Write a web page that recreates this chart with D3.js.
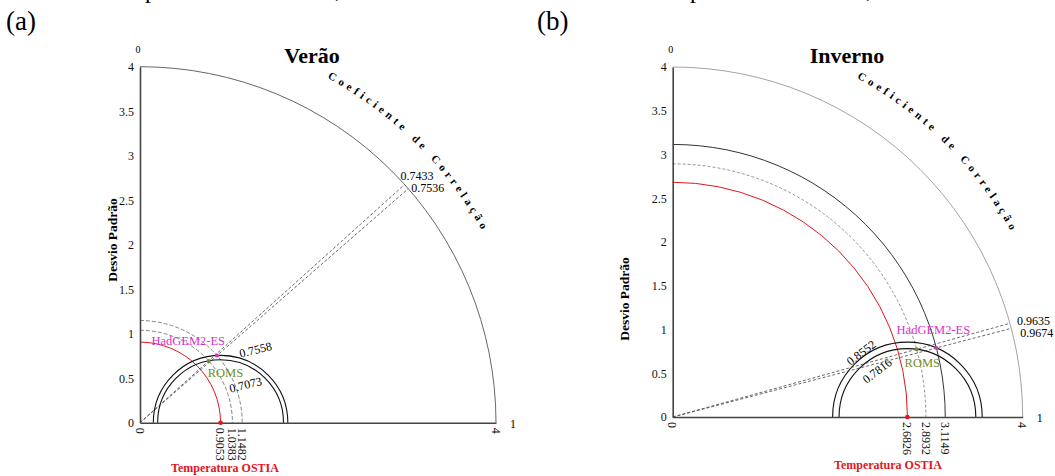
<!DOCTYPE html>
<html><head><meta charset="utf-8">
<script src="https://cdn.jsdelivr.net/npm/d3@7"></script>
<style>
body{margin:0;background:#fff}
svg{display:block}
text{font-family:"Liberation Serif","Times New Roman",serif}
</style>
</head><body>
<svg id="c" width="1055" height="476"></svg>
<script>
// ---------- data ----------
const panelTags = ["(a)", "(b)"];
const panelTitles = ["Verão", "Inverno"];
const refName = "Temperatura OSTIA";
const refStd = [0.9053, 2.6826];
const modelNames = ["HadGEM2-ES", "ROMS"];
const modelStd = [[1.1482, 1.0383], [3.1149, 2.8932]];
const modelCorr = [[0.7536, 0.7433], [0.9674, 0.9635]];
const modelRms = [[0.7558, 0.7073], [0.8552, 0.7816]];
const stdTicks = [0, 0.5, 1, 1.5, 2, 2.5, 3, 3.5, 4];
const stdMax = 4;
const corrEndLabels = ["0", "1"];
const yAxisTitle = "Desvio Padrão";
const corrTitle = "Coeficiente de Correlação";

// ---------- layout / style ----------
const modelColors = ["#d632c8", "#6e8f2c"];
const refColor = "#e3151b";
const layout = [
  { ox: 140, oy: 422.7, R: 356, tagX: 6, titleX: 312, yTitle: [117, 240], refLabel: [225, 472],
    outer: "#555",
    stdStyle: [{ dash: "4,2", stroke: "#777", w: 0.9 }, { dash: "4,2", stroke: "#777", w: 0.9 }],
    modelLabel: [{ dx: 8, dy: -11, anchor: "end" }, { dx: -1, dy: 16, anchor: "start" }],
    rmsLabel: [{ dx: 20, dy: -65, rot: -14 }, { dx: 10, dy: -30, rot: -14 }],
    corrLabel: [{ dx: 3, dy: 3 }, { dx: -4, dy: -5 }],
    frags: [[145, -2, "p"], [335, -3, ","]] },
  { ox: 672.7, oy: 417, R: 350, tagX: 537, titleX: 847, yTitle: [629, 299], refLabel: [888, 469],
    outer: "#999",
    stdStyle: [{ dash: null, stroke: "#333", w: 1 }, { dash: "3,2", stroke: "#888", w: 0.9 }],
    modelLabel: [{ dx: -3, dy: -14, anchor: "middle" }, { dx: -12, dy: 18, anchor: "start" }],
    rmsLabel: [{ dx: -57, dy: -51, rot: -37 }, { dx: -41, dy: -33, rot: -37 }],
    corrLabel: [{ dx: 9, dy: 9 }, { dx: 7, dy: 2 }],
    frags: [[690, -2, "p"], [866, -3, ","]] }
];

const svg = d3.select("#c");
const deg = Math.PI / 180;
const arcPath = (cx, cy, rad, a0, a1) => { const pa = d3.path(); pa.arc(cx, cy, rad, a0, a1, false); return pa.toString(); };

layout.forEach((L, p) => {
  const g = svg.append("g");
  const r = d3.scaleLinear().domain([0, stdMax]).range([0, L.R]);
  const xs = d3.scaleLinear().domain([0, stdMax]).range([L.ox, L.ox + L.R]);
  const ys = d3.scaleLinear().domain([0, stdMax]).range([L.oy, L.oy - L.R]);
  const pt = (s, c) => [xs(s * c), ys(s * Math.sqrt(1 - c * c))];

  // fragments of the text line above (cut off in the source)
  L.frags.forEach(f => g.append("text").attr("x", f[0]).attr("y", f[1]).attr("font-size", 24).text(f[2]));

  // panel tag and title
  g.append("text").attr("x", L.tagX).attr("y", 30).attr("font-size", 27).text(panelTags[p]);
  g.append("text").attr("x", L.titleX).attr("y", 63).attr("text-anchor", "middle")
    .attr("font-size", 22).attr("font-weight", "bold").text(panelTitles[p]);

  // outer arc (std max)
  g.append("path").attr("d", arcPath(L.ox, L.oy, r(stdMax), -Math.PI / 2, 0))
    .attr("fill", "none").attr("stroke", L.outer).attr("stroke-width", 0.9);

  // reference std arc (red)
  g.append("path").attr("d", arcPath(L.ox, L.oy, r(refStd[p]), -Math.PI / 2, 0))
    .attr("fill", "none").attr("stroke", refColor).attr("stroke-width", 1);

  // model std arcs
  modelStd[p].forEach((s, i) => {
    const st = L.stdStyle[i];
    g.append("path").attr("d", arcPath(L.ox, L.oy, r(s), -Math.PI / 2, 0))
      .attr("fill", "none").attr("stroke", st.stroke).attr("stroke-width", st.w)
      .attr("stroke-dasharray", st.dash);
  });

  // RMS semicircles around reference
  modelRms[p].forEach(v => {
    g.append("path").attr("d", arcPath(xs(refStd[p]), L.oy, r(v), -Math.PI, 0))
      .attr("fill", "none").attr("stroke", "#111").attr("stroke-width", 1.1);
  });

  // correlation lines
  modelCorr[p].forEach((c, i) => {
    const e = pt(stdMax, c);
    g.append("line").attr("x1", L.ox).attr("y1", L.oy).attr("x2", e[0]).attr("y2", e[1])
      .attr("stroke", "#444").attr("stroke-width", 0.8).attr("stroke-dasharray", "3,2");
    g.append("text").attr("x", e[0] + L.corrLabel[i].dx).attr("y", e[1] + L.corrLabel[i].dy)
      .attr("font-size", 12).text(d3.format(".4f")(c));
  });

  // RMS labels
  modelRms[p].forEach((v, i) => {
    const lx = xs(refStd[p]) + L.rmsLabel[i].dx, ly = L.oy + L.rmsLabel[i].dy;
    g.append("text").attr("transform", `translate(${lx},${ly}) rotate(${L.rmsLabel[i].rot})`)
      .attr("font-size", 12).text(d3.format(".4f")(v));
  });

  // axes
  const yAxis = d3.axisLeft(ys).tickValues(stdTicks).tickSize(0).tickSizeOuter(0).tickPadding(6)
    .tickFormat(d3.format(""));
  const ya = g.append("g").attr("transform", `translate(${L.ox},0)`).call(yAxis);
  ya.select(".domain").attr("stroke", "#444").attr("stroke-width", 1.6);
  ya.selectAll("text").attr("font-family", "Liberation Serif").attr("font-size", 12).attr("fill", "#111");

  const xTicks = [0, refStd[p], ...modelStd[p], stdMax].sort((a, b) => a - b);
  const xAxis = d3.axisBottom(xs).tickValues(xTicks).tickSize(0).tickSizeOuter(0)
    .tickFormat(d3.format(""));
  const xa = g.append("g").attr("transform", `translate(0,${L.oy})`).call(xAxis);
  xa.select(".domain").attr("stroke", "#444").attr("stroke-width", 1.6);
  xa.selectAll("text").attr("font-family", "Liberation Serif").attr("font-size", 12).attr("fill", "#111")
    .attr("transform", "rotate(90)").attr("x", 5).attr("y", 0).attr("dy", "0.4em")
    .attr("text-anchor", "start");

  // correlation end labels
  g.append("text").attr("x", L.ox - 2).attr("y", 53).attr("text-anchor", "middle")
    .attr("font-size", 10).text(corrEndLabels[0]);
  g.append("text").attr("x", L.ox + L.R + 17).attr("y", L.oy + 5).attr("text-anchor", "middle")
    .attr("font-size", 12).text(corrEndLabels[1]);

  // y axis title
  g.append("text").attr("transform", `translate(${L.yTitle[0]},${L.yTitle[1]}) rotate(-90)`)
    .attr("text-anchor", "middle").attr("font-size", 13.5).attr("font-weight", "bold").text(yAxisTitle);

  // correlation title along arc
  const id = "corrArc" + p;
  const rb = r(stdMax) * 1.102;
  svg.append("defs").append("path").attr("id", id)
    .attr("d", arcPath(L.ox, L.oy, rb, -61.5 * deg, -24 * deg));
  g.append("text").attr("font-size", 11).attr("font-weight", "bold").attr("letter-spacing", 3.9)
    .attr("word-spacing", 2)
    .append("textPath").attr("href", "#" + id).text(corrTitle);

  // reference point and label
  g.append("circle").attr("cx", xs(refStd[p])).attr("cy", L.oy).attr("r", 2.3).attr("fill", refColor);
  g.append("text").attr("x", L.refLabel[0]).attr("y", L.refLabel[1]).attr("text-anchor", "middle")
    .attr("font-size", 12).attr("font-weight", "bold").attr("fill", refColor).text(refName);

  // model points and labels
  modelNames.forEach((n, i) => {
    const q = pt(modelStd[p][i], modelCorr[p][i]);
    g.append("circle").attr("cx", q[0]).attr("cy", q[1]).attr("r", 2).attr("fill", modelColors[i]);
    g.append("text").attr("x", q[0] + L.modelLabel[i].dx).attr("y", q[1] + L.modelLabel[i].dy)
      .attr("text-anchor", L.modelLabel[i].anchor).attr("font-size", 12.5).attr("fill", modelColors[i]).text(n);
  });
});
</script>
</body></html>
